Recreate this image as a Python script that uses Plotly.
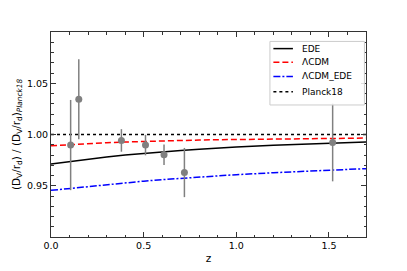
import plotly.graph_objects as go

# model curves
z_model = [0.0, 0.1, 0.2, 0.3, 0.4, 0.5, 0.6, 0.7, 0.8, 0.9, 1.0, 1.2, 1.4, 1.6, 1.7]
ede = [0.9712, 0.9737, 0.9760, 0.9781, 0.9800, 0.9817, 0.9832, 0.9845, 0.9856, 0.9868, 0.9878, 0.9895, 0.9910, 0.9922, 0.9927]
lcdm = [0.9890, 0.9902, 0.9912, 0.9920, 0.9927, 0.9933, 0.9938, 0.9942, 0.9946, 0.9949, 0.9952, 0.9956, 0.9960, 0.9963, 0.9965]
lcdm_ede = [0.9455, 0.9474, 0.9493, 0.9511, 0.9529, 0.9545, 0.9560, 0.9573, 0.9585, 0.9597, 0.9608, 0.9627, 0.9644, 0.9660, 0.9667]
planck = [1.0] * len(z_model)

# BAO data
z_obs = [0.106, 0.15, 0.38, 0.51, 0.61, 0.72, 1.52]
y_obs = [0.9897, 1.0344, 0.9942, 0.9897, 0.9803, 0.9629, 0.9923]
err_obs = [0.044, 0.039, 0.011, 0.010, 0.010, 0.024, 0.038]

font = "DejaVu Sans"
RED_DASH = "6px,3px"
BLUE_DASH = "7px,2px,2px,2px"

fig = go.Figure()
fig.add_trace(go.Scatter(x=z_model, y=planck, mode="lines", name="Planck18",
                         line=dict(color="black", width=1.5, dash="dot")))
fig.add_trace(go.Scatter(x=z_model, y=lcdm, mode="lines", name="ΛCDM",
                         line=dict(color="red", width=1.5, dash=RED_DASH)))
fig.add_trace(go.Scatter(x=z_model, y=lcdm_ede, mode="lines", name="ΛCDM_EDE",
                         line=dict(color="blue", width=1.5, dash=BLUE_DASH)))
fig.add_trace(go.Scatter(x=z_model, y=ede, mode="lines", name="EDE",
                         line=dict(color="black", width=1.5)))
fig.add_trace(go.Scatter(x=z_obs, y=y_obs, mode="markers", name="data",
                         marker=dict(color="grey", size=7),
                         error_y=dict(type="data", array=err_obs, color="grey",
                                      thickness=1.5, width=0)))

# matplotlib-style legend drawn by hand (plotly's rows are too tall)
fig.add_shape(type="rect", xref="paper", yref="paper", x0=0.695, x1=0.995, y0=0.644, y1=0.954,
              fillcolor="rgba(255,255,255,0.85)", line=dict(color="#ccc", width=1), layer="above")
legend_items = [("EDE", "black", "solid"), ("ΛCDM", "red", RED_DASH),
                ("ΛCDM_EDE", "blue", BLUE_DASH), ("Planck18", "black", "dot")]
legend_y = [0.919, 0.852, 0.783, 0.708]
for (name, col, dash), ly in zip(legend_items, legend_y):
    fig.add_shape(type="line", xref="paper", yref="paper", x0=0.706, x1=0.768, y0=ly, y1=ly,
                  line=dict(color=col, width=1.5, dash=dash), layer="above")
    fig.add_annotation(xref="paper", yref="paper", x=0.79, y=ly, text=name, showarrow=False,
                       xanchor="left", yanchor="middle",
                       font=dict(family=font, size=9, color="black"))

axis_common = dict(showline=True, linecolor="#333", linewidth=1, mirror="allticks",
                   ticks="inside", ticklen=5, tickcolor="#333", showgrid=False,
                   zeroline=False, automargin=False,
                   tickfont=dict(family=font, size=9.5, color="black"))

fig.update_xaxes(range=[0, 1.7], dtick=0.5, tickformat=".1f",
                 minor=dict(dtick=0.1, ticks="inside", ticklen=2.5, tickcolor="#333"),
                 title=dict(text="z", font=dict(family=font, size=10.5, color="black"), standoff=4),
                 **axis_common)
fig.update_yaxes(range=[0.9, 1.1], tickvals=[0.95, 1.0, 1.05], tickformat=".2f",
                 minor=dict(dtick=0.01, ticks="inside", ticklen=2.5, tickcolor="#333"),
                 title=dict(text="(D<sub>V</sub>/r<sub>d</sub>) / (D<sub>V</sub>/r<sub>d</sub>)<sub><i>Planck18</i></sub>",
                            font=dict(family=font, size=10.5, color="black"), standoff=4),
                 **axis_common)

# page body adds an 8px offset, so the figure is made 8px smaller
fig.update_layout(width=399, height=263, margin=dict(l=43, r=41, t=24, b=34),
                  plot_bgcolor="white", paper_bgcolor="white", showlegend=False,
                  font=dict(family=font, size=9.5, color="black"))

fig.write_html("out.html")
